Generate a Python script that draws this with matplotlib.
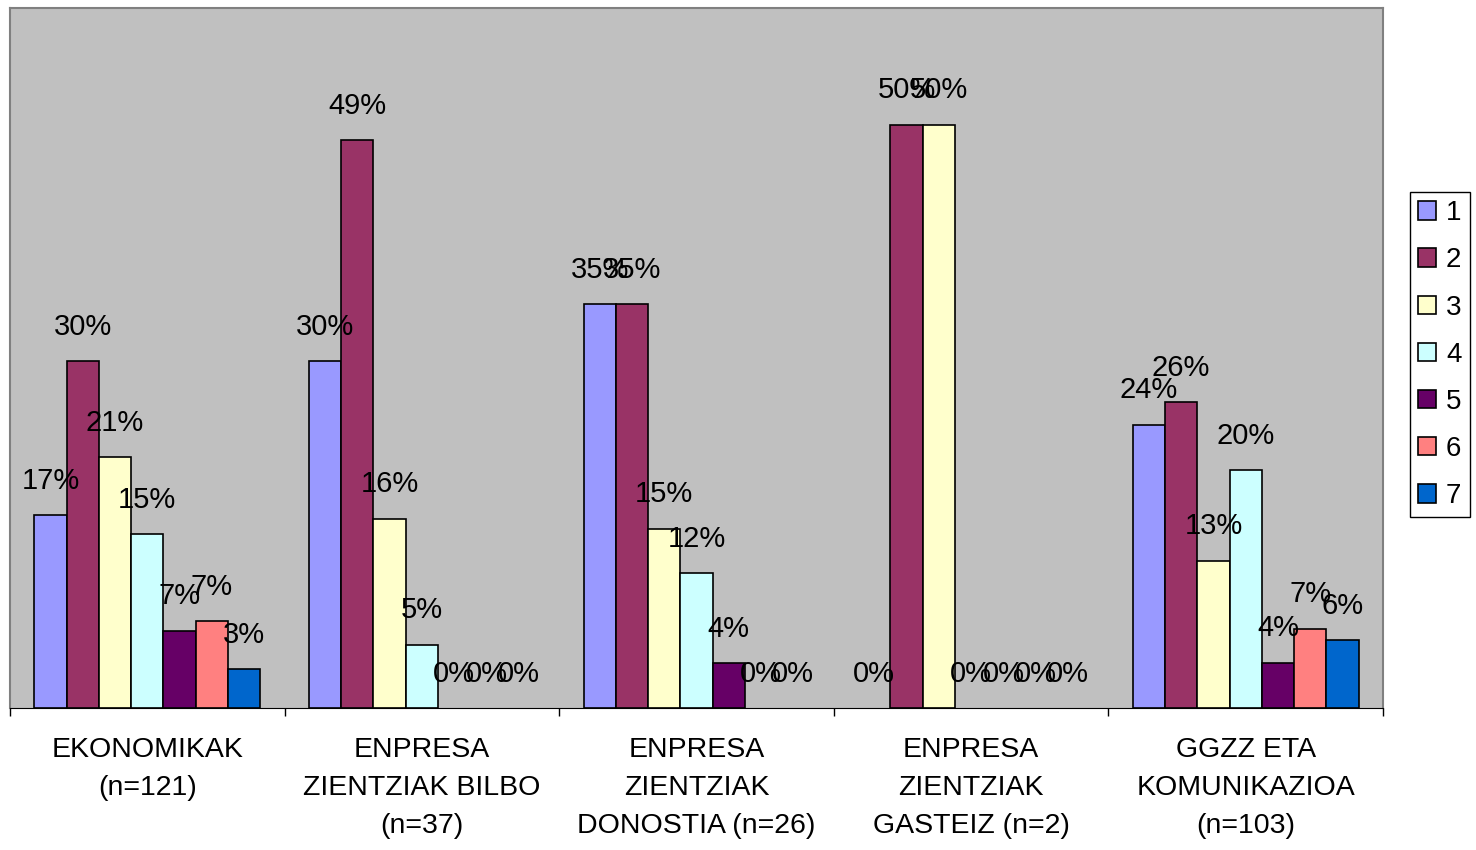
import numpy as np
import matplotlib
matplotlib.use("Agg")
import matplotlib.pyplot as plt
from matplotlib.patches import Patch

plt.rcParams['font.family'] = ['Liberation Sans', 'DejaVu Sans']

# datuak (ehunekoak)
categories = ['EKONOMIKAK\n(n=121)',
              'ENPRESA\nZIENTZIAK BILBO\n(n=37)',
              'ENPRESA\nZIENTZIAK\nDONOSTIA (n=26)',
              'ENPRESA\nZIENTZIAK\nGASTEIZ (n=2)',
              'GGZZ ETA\nKOMUNIKAZIOA\n(n=103)']
series_names = ['1', '2', '3', '4', '5', '6', '7']
s1 = [16.53, 29.73, 34.62, 0.0, 24.27]
s2 = [29.75, 48.65, 34.62, 50.0, 26.21]
s3 = [21.49, 16.22, 15.38, 50.0, 12.62]
s4 = [14.88, 5.41, 11.54, 0.0, 20.39]
s5 = [6.61, 0.0, 3.85, 0.0, 3.88]
s6 = [7.44, 0.0, 0.0, 0.0, 6.80]
s7 = [3.31, 0.0, 0.0, 0.0, 5.83]
all_series = [s1, s2, s3, s4, s5, s6, s7]
colors = ['#9999FF', '#993366', '#FFFFCC', '#CCFFFF', '#660066', '#FF8080', '#0066CC']

fig = plt.figure(figsize=(14.76, 8.5), dpi=100)
ax = fig.add_axes([10/1476, 1-708/850, (1383-10)/1476, (708-8)/850])
ax.set_facecolor('#C0C0C0')

x = np.arange(len(categories))
w = 0.823/7
for i, vals in enumerate(all_series):
    pos = x - 0.823/2 + w*(i+0.5)
    ax.bar(pos, vals, width=w, color=colors[i], edgecolor='black',
           linewidth=[1.2 if v > 0 else 0 for v in vals], zorder=2)
    for px, v in zip(pos, vals):
        ax.annotate('%.0f%%' % v, (px, v), xytext=(0, 19), textcoords='offset points',
                    ha='center', va='baseline', fontsize=21, zorder=3)

ax.set_xlim(-0.5, 4.5)
ax.set_ylim(0, 60)
ax.set_yticks([])
ax.set_xticks(np.arange(-0.5, 5, 1))
ax.set_xticklabels([])
ax.tick_params(axis='x', direction='out', length=6, width=1, color='black')
ax.set_xticks(x, minor=True)
ax.set_xticklabels(categories, minor=True, fontsize=20.5, linespacing=1.6)
ax.tick_params(axis='x', which='minor', length=0, pad=21)

for s in ['left', 'top', 'right']:
    ax.spines[s].set_color('#808080')
    ax.spines[s].set_linewidth(1.5)
ax.spines['bottom'].set_color('black')
ax.spines['bottom'].set_zorder(4)

handles = [Patch(facecolor=c, edgecolor='black', linewidth=1.2) for c in colors]
leg = fig.legend(handles, series_names, loc='upper left',
                 bbox_to_anchor=(1410/1476, 1-192/850), fontsize=20,
                 frameon=True, fancybox=False, edgecolor='black', framealpha=1,
                 handlelength=0.65, handleheight=0.65, handletextpad=0.35,
                 labelspacing=0.76, borderpad=0.3, borderaxespad=0)
leg.get_frame().set_linewidth(1)

fig.savefig('out.png', dpi=100)
